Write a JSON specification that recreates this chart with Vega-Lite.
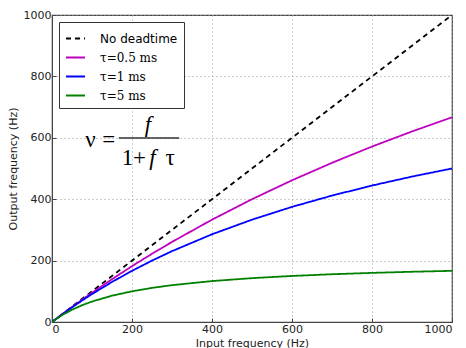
{
  "$schema": "https://vega.github.io/schema/vega-lite/v6.json",
  "autosize": {"type": "none"},
  "padding": {"left": 52, "top": 15, "right": 14, "bottom": 26},
  "width": 400,
  "height": 307,
  "background": "white",
  "config": {
    "view": {"stroke": "#444", "strokeWidth": 1.2},
    "axis": {
      "labelFont": "DejaVu Sans", "labelFontSize": 11, "labelColor": "#222",
      "titleFont": "DejaVu Sans", "titleFontSize": 11, "titleFontWeight": "normal", "titleColor": "#222",
      "grid": true, "gridColor": "#999999", "gridDash": [1, 3], "gridWidth": 1, "gridOpacity": 1,
      "domainColor": "#444", "tickColor": "#444", "tickSize": -4, "labelPadding": 5, "format": "d"
    }
  },
  "datasets": {
    "curves": [
      {"series": "No deadtime", "f": 0, "out": 0},
      {"series": "No deadtime", "f": 1000, "out": 1000},
      {"series": "τ=0.5 ms", "f": 0, "out": 0},
      {"series": "τ=0.5 ms", "f": 25, "out": 24.69},
      {"series": "τ=0.5 ms", "f": 50, "out": 48.78},
      {"series": "τ=0.5 ms", "f": 75, "out": 72.29},
      {"series": "τ=0.5 ms", "f": 100, "out": 95.24},
      {"series": "τ=0.5 ms", "f": 150, "out": 139.53},
      {"series": "τ=0.5 ms", "f": 200, "out": 181.82},
      {"series": "τ=0.5 ms", "f": 250, "out": 222.22},
      {"series": "τ=0.5 ms", "f": 300, "out": 260.87},
      {"series": "τ=0.5 ms", "f": 400, "out": 333.33},
      {"series": "τ=0.5 ms", "f": 500, "out": 400},
      {"series": "τ=0.5 ms", "f": 600, "out": 461.54},
      {"series": "τ=0.5 ms", "f": 700, "out": 518.52},
      {"series": "τ=0.5 ms", "f": 800, "out": 571.43},
      {"series": "τ=0.5 ms", "f": 900, "out": 620.69},
      {"series": "τ=0.5 ms", "f": 1000, "out": 666.67},
      {"series": "τ=1 ms", "f": 0, "out": 0},
      {"series": "τ=1 ms", "f": 25, "out": 24.39},
      {"series": "τ=1 ms", "f": 50, "out": 47.62},
      {"series": "τ=1 ms", "f": 75, "out": 69.77},
      {"series": "τ=1 ms", "f": 100, "out": 90.91},
      {"series": "τ=1 ms", "f": 150, "out": 130.43},
      {"series": "τ=1 ms", "f": 200, "out": 166.67},
      {"series": "τ=1 ms", "f": 250, "out": 200},
      {"series": "τ=1 ms", "f": 300, "out": 230.77},
      {"series": "τ=1 ms", "f": 400, "out": 285.71},
      {"series": "τ=1 ms", "f": 500, "out": 333.33},
      {"series": "τ=1 ms", "f": 600, "out": 375},
      {"series": "τ=1 ms", "f": 700, "out": 411.76},
      {"series": "τ=1 ms", "f": 800, "out": 444.44},
      {"series": "τ=1 ms", "f": 900, "out": 473.68},
      {"series": "τ=1 ms", "f": 1000, "out": 500},
      {"series": "τ=5 ms", "f": 0, "out": 0},
      {"series": "τ=5 ms", "f": 10, "out": 9.52},
      {"series": "τ=5 ms", "f": 25, "out": 22.22},
      {"series": "τ=5 ms", "f": 50, "out": 40},
      {"series": "τ=5 ms", "f": 75, "out": 54.55},
      {"series": "τ=5 ms", "f": 100, "out": 66.67},
      {"series": "τ=5 ms", "f": 150, "out": 85.71},
      {"series": "τ=5 ms", "f": 200, "out": 100},
      {"series": "τ=5 ms", "f": 250, "out": 111.11},
      {"series": "τ=5 ms", "f": 300, "out": 120},
      {"series": "τ=5 ms", "f": 400, "out": 133.33},
      {"series": "τ=5 ms", "f": 500, "out": 142.86},
      {"series": "τ=5 ms", "f": 600, "out": 150},
      {"series": "τ=5 ms", "f": 700, "out": 155.56},
      {"series": "τ=5 ms", "f": 800, "out": 160},
      {"series": "τ=5 ms", "f": 900, "out": 163.64},
      {"series": "τ=5 ms", "f": 1000, "out": 166.67}
    ],
    "formulaUpright": [
      {"t": "ν", "x": 96, "y": 570},
      {"t": "=", "x": 142, "y": 570},
      {"t": "1", "x": 189, "y": 511},
      {"t": "+", "x": 219, "y": 511},
      {"t": "τ", "x": 295, "y": 511}
    ],
    "formulaItalic": [
      {"t": "f", "x": 240, "y": 619},
      {"t": "f", "x": 251, "y": 511}
    ],
    "formulaBar": [
      {"x1": 167, "x2": 318, "y": 599}
    ]
  },
  "layer": [
    {
      "data": {"name": "curves"},
      "mark": {"type": "line", "strokeWidth": 1.8, "clip": true},
      "encoding": {
        "x": {"field": "f", "type": "quantitative", "scale": {"domain": [0, 1000], "nice": false}, "axis": {"title": "Input frequency (Hz)", "values": [0, 200, 400, 600, 800, 1000], "titlePadding": 3}},
        "y": {"field": "out", "type": "quantitative", "scale": {"domain": [0, 1000], "nice": false}, "axis": {"title": "Output frequency (Hz)", "values": [0, 200, 400, 600, 800, 1000], "titlePadding": 5}},
        "color": {"field": "series", "type": "nominal", "scale": {"domain": ["No deadtime", "τ=0.5 ms", "τ=1 ms", "τ=5 ms"], "range": ["black", "#bf00bf", "#0000ff", "#008000"]},
          "legend": {"title": null, "orient": "top-left", "offset": 7, "strokeColor": "#333", "fillColor": "white", "padding": 6, "symbolType": "stroke", "symbolSize": 360, "symbolStrokeWidth": 1.8, "labelFontSize": 12, "labelFont": "DejaVu Serif", "labelColor": "black", "rowPadding": 2, "labelOffset": 14, "cornerRadius": 0,
            "encode": {"labels": {"update": {"font": {"signal": "datum.label == 'No deadtime' ? 'DejaVu Sans' : 'DejaVu Serif'"}}}}}},
        "strokeDash": {"field": "series", "type": "nominal", "scale": {"domain": ["No deadtime", "τ=0.5 ms", "τ=1 ms", "τ=5 ms"], "range": [[5, 4], [1, 0], [1, 0], [1, 0]]}, "legend": null}
      }
    },
    {
      "data": {"name": "formulaUpright"},
      "mark": {"type": "text", "font": "Liberation Serif", "fontSize": 23, "align": "center", "baseline": "alphabetic", "color": "black"},
      "encoding": {
        "x": {"field": "x", "type": "quantitative"},
        "y": {"field": "y", "type": "quantitative"},
        "text": {"field": "t"}
      }
    },
    {
      "data": {"name": "formulaItalic"},
      "mark": {"type": "text", "font": "Liberation Serif", "fontStyle": "italic", "fontSize": 23, "align": "center", "baseline": "alphabetic", "color": "black"},
      "encoding": {
        "x": {"field": "x", "type": "quantitative"},
        "y": {"field": "y", "type": "quantitative"},
        "text": {"field": "t"}
      }
    },
    {
      "data": {"name": "formulaBar"},
      "mark": {"type": "rule", "color": "#333", "strokeWidth": 1.5},
      "encoding": {
        "x": {"field": "x1", "type": "quantitative"},
        "x2": {"field": "x2"},
        "y": {"field": "y", "type": "quantitative"}
      }
    }
  ]
}
